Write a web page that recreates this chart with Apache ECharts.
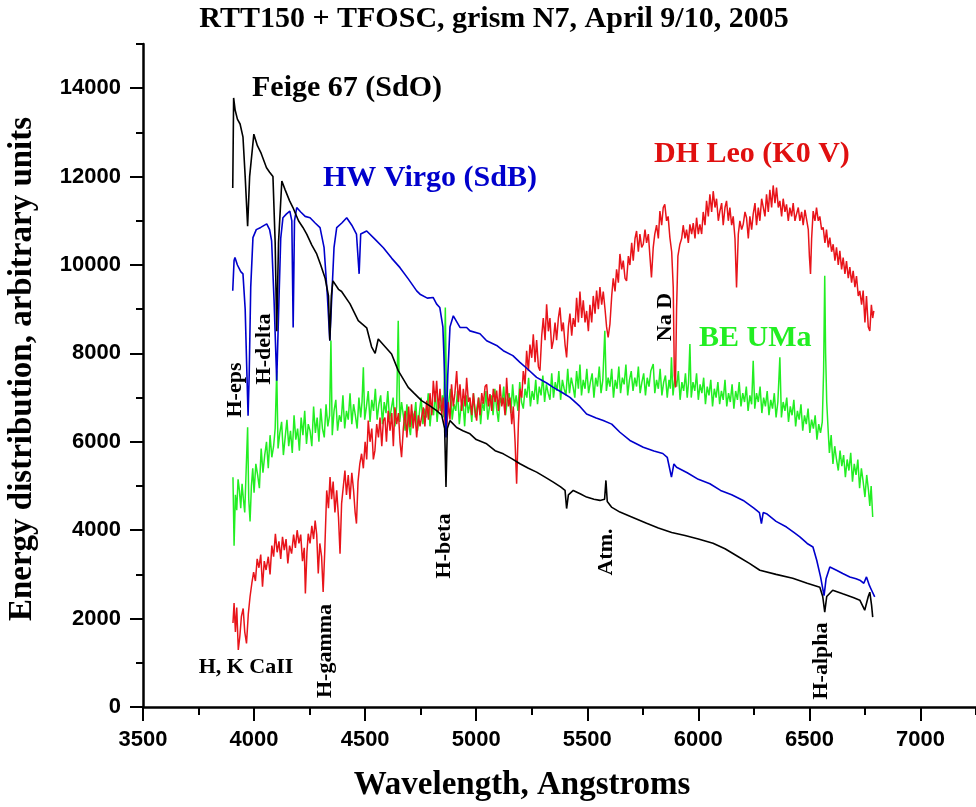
<!DOCTYPE html>
<html><head><meta charset="utf-8">
<script src="https://cdn.jsdelivr.net/npm/echarts@6/dist/echarts.min.js"></script>
<style>html,body{margin:0;padding:0;background:#fff}#c{width:976px;height:807px}</style>
</head><body><div id="c"></div>
<script>
const xTicks=[3500,4000,4500,5000,5500,6000,6500,7000];
const yTicks=[0,2000,4000,6000,8000,10000,12000,14000];

const feige67=[[3904,11740],[3908,13780],[3915,13500],[3925,13300],[3937,13190],[3950,12900],[3960,12000],[3971,10880],[3980,12000],[3999,12960],[4015,12700],[4030,12550],[4056,12200],[4070,12100],[4085,12000],[4095,10500],[4102,8500],[4110,10500],[4125,11900],[4140,11700],[4160,11450],[4175,11300],[4200,11000],[4220,10850],[4237,10700],[4260,10450],[4282,10250],[4300,10000],[4320,9700],[4335,9300],[4341,8290],[4348,9300],[4355,9640],[4380,9450],[4394,9400],[4432,9120],[4469,8740],[4507,8580],[4529,8150],[4545,8000],[4559,8325],[4590,8150],[4619,7986],[4649,7610],[4694,7232],[4720,7100],[4754,6932],[4790,6820],[4822,6706],[4845,6600],[4858,6300],[4864,4975],[4870,6300],[4882,6480],[4912,6322],[4940,6250],[4972,6180],[5000,6050],[5047,5954],[5085,5800],[5122,5728],[5160,5620],[5197,5503],[5235,5400],[5272,5314],[5310,5200],[5347,5088],[5380,4980],[5400,4900],[5407,4490],[5415,4800],[5437,4900],[5470,4820],[5497,4749],[5530,4700],[5557,4674],[5578,4700],[5584,5126],[5590,4650],[5609,4523],[5647,4410],[5700,4300],[5767,4155],[5820,4050],[5880,3950],[5940,3880],[6000,3800],[6066,3703],[6120,3580],[6180,3400],[6230,3250],[6277,3093],[6350,3000],[6425,2913],[6490,2800],[6547,2710],[6560,2500],[6569,2145],[6578,2500],[6605,2642],[6650,2560],[6700,2470],[6727,2416],[6749,2190],[6765,2500],[6772,2597],[6780,2300],[6785,2032]];

const hwVir=[[3904,9416],[3910,10100],[3914,10170],[3925,10000],[3940,9850],[3950,9800],[3960,9000],[3968,7500],[3973,6590],[3978,7500],[3985,9500],[3995,10620],[4010,10800],[4030,10850],[4057,10930],[4070,10800],[4079,10545],[4090,9200],[4102,7384],[4112,9200],[4120,10600],[4130,11070],[4145,11150],[4161,11220],[4170,11000],[4176,8587],[4182,11000],[4192,11300],[4210,11200],[4230,11100],[4252,11070],[4275,10950],[4297,10845],[4315,10400],[4330,9300],[4341,8290],[4350,9300],[4360,10400],[4372,10845],[4395,10950],[4417,11070],[4440,10900],[4461,10700],[4473,9800],[4480,10700],[4507,10770],[4545,10580],[4582,10390],[4620,10150],[4657,9940],[4695,9680],[4732,9415],[4747,9340],[4780,9250],[4806,9265],[4822,9115],[4836,9040],[4850,8600],[4858,7500],[4864,6100],[4872,7500],[4882,8600],[4897,8850],[4927,8587],[4957,8587],[4972,8510],[5017,8445],[5047,8286],[5092,8180],[5122,8060],[5165,7950],[5197,7797],[5235,7630],[5272,7458],[5317,7330],[5347,7232],[5385,7120],[5422,7006],[5467,6800],[5497,6630],[5540,6540],[5572,6480],[5610,6400],[5647,6216],[5692,6030],[5752,5877],[5800,5790],[5840,5735],[5860,5650],[5879,5200],[5890,5500],[5902,5426],[5950,5300],[6000,5150],[6052,5050],[6100,4900],[6150,4800],[6202,4674],[6250,4500],[6275,4400],[6284,4147],[6292,4400],[6307,4373],[6350,4200],[6397,4071],[6430,3950],[6457,3850],[6490,3700],[6516,3620],[6533,3320],[6550,2950],[6566,2520],[6575,2900],[6592,3168],[6622,3093],[6650,3020],[6682,2943],[6710,2900],[6727,2868],[6745,2800],[6757,2943],[6770,2750],[6780,2642],[6794,2490]];

const beUMa=[[3905,5200],[3910,3650],[3916,4800],[3922,4450],[3928,5150],[3934,4900],[3940,4500],[3946,5050],[3952,4700],[3958,4400],[3964,5300],[3971,6330],[3976,4700],[3982,4200],[3988,5000],[3994,5400],[4000,4850],[4008,5500],[4016,5250],[4024,4950],[4032,5850],[4040,5300],[4048,5700],[4056,6000],[4064,5400],[4072,6150],[4080,5650],[4088,5900],[4095,6300],[4102,7610],[4108,5850],[4116,6200],[4124,6450],[4132,5700],[4140,6100],[4148,6500],[4156,5900],[4164,6250],[4172,5750],[4180,6600],[4188,6050],[4196,6300],[4204,5800],[4212,6550],[4220,6150],[4228,6700],[4236,5950],[4244,6400],[4252,6250],[4260,5900],[4268,6800],[4276,6200],[4284,6550],[4292,6000],[4300,6750],[4308,6300],[4316,6100],[4324,6850],[4332,6350],[4340,6600],[4346,8290],[4352,6150],[4360,6700],[4368,6950],[4376,6250],[4384,6600],[4392,6450],[4400,7050],[4408,6300],[4416,6700],[4424,6500],[4432,7100],[4440,6400],[4448,6850],[4456,6600],[4464,6300],[4472,7000],[4480,6550],[4486,6900],[4492,7685],[4498,6500],[4506,6800],[4514,7150],[4522,6450],[4530,6950],[4538,6700],[4546,7200],[4554,6500],[4562,6850],[4570,7050],[4578,6400],[4586,6900],[4594,6650],[4602,7150],[4610,6500],[4618,6750],[4626,7000],[4634,6350],[4642,6800],[4649,8740],[4656,6450],[4664,6900],[4672,6600],[4680,6250],[4688,6850],[4696,6400],[4704,6150],[4712,6700],[4720,6500],[4728,6900],[4736,6250],[4744,6650],[4752,7000],[4760,6400],[4768,6750],[4776,6550],[4784,7100],[4792,6350],[4800,6800],[4808,6600],[4816,7150],[4824,6450],[4832,6900],[4840,6700],[4848,7050],[4854,6550],[4861,9040],[4868,6400],[4876,6900],[4884,7200],[4892,6500],[4900,6850],[4908,6700],[4916,7150],[4924,6400],[4932,6800],[4940,6950],[4948,6350],[4956,7050],[4964,6650],[4972,6900],[4980,6450],[4988,7100],[4996,6550],[5004,6800],[5012,7000],[5020,6400],[5028,6900],[5036,6700],[5044,7150],[5052,6500],[5060,6800],[5068,7050],[5076,6600],[5084,7200],[5092,6750],[5100,6450],[5108,7000],[5116,6850],[5124,7250],[5132,6600],[5140,6950],[5148,7100],[5156,6650],[5164,7300],[5172,6800],[5180,7050],[5188,6700],[5196,7350],[5204,6900],[5212,6750],[5220,7200],[5228,7000],[5236,7450],[5244,6800],[5252,7150],[5260,6950],[5268,7400],[5276,6850],[5284,7250],[5292,7050],[5300,7500],[5308,6900],[5316,7300],[5324,7100],[5332,6950],[5340,7550],[5348,7000],[5356,7350],[5364,7150],[5372,7600],[5380,6950],[5388,7400],[5396,7200],[5404,7050],[5412,7650],[5420,7100],[5428,7450],[5436,7250],[5444,7000],[5452,7600],[5460,7200],[5467,7750],[5474,7050],[5482,7400],[5490,7200],[5498,7650],[5506,7100],[5514,7350],[5522,7550],[5530,7000],[5538,7450],[5546,7250],[5554,7700],[5562,7100],[5570,7400],[5579,8510],[5586,7150],[5594,7450],[5602,7250],[5610,7650],[5618,7000],[5626,7400],[5634,7200],[5642,7700],[5650,7100],[5658,7450],[5666,7300],[5674,7750],[5682,7050],[5690,7400],[5698,7600],[5706,7150],[5714,7450],[5722,7250],[5730,7700],[5738,7100],[5746,7350],[5754,7550],[5762,7050],[5770,7450],[5778,7250],[5786,7600],[5797,7760],[5804,7100],[5812,7400],[5820,7200],[5828,7650],[5836,7050],[5844,7350],[5852,7500],[5860,7000],[5868,7400],[5874,7200],[5879,7910],[5886,7050],[5894,7450],[5902,7250],[5910,7600],[5918,6950],[5926,7350],[5934,7150],[5942,7550],[5950,7000],[5956,7350],[5962,8212],[5968,7000],[5976,7350],[5984,7150],[5992,7550],[6000,6950],[6008,7300],[6016,7100],[6024,7450],[6032,6850],[6040,7250],[6048,7050],[6056,7400],[6064,6800],[6072,7200],[6080,7000],[6088,7350],[6096,6850],[6104,7150],[6112,6950],[6120,7400],[6128,6800],[6136,7100],[6144,6900],[6152,7300],[6160,6750],[6168,7150],[6176,6950],[6184,7350],[6192,6800],[6200,7100],[6208,6900],[6216,7250],[6224,6700],[6232,7050],[6240,6850],[6247,7835],[6254,6750],[6262,7100],[6270,6900],[6278,7250],[6286,6650],[6294,7000],[6302,6800],[6310,7150],[6318,6600],[6326,6950],[6334,6750],[6342,7100],[6350,6550],[6358,6900],[6367,7910],[6374,6550],[6382,6900],[6390,6700],[6398,7000],[6406,6450],[6414,6800],[6422,6600],[6430,6950],[6438,6350],[6446,6700],[6454,6500],[6462,6850],[6470,6250],[6478,6600],[6486,6400],[6494,6750],[6502,6200],[6510,6500],[6518,6300],[6526,6600],[6534,6050],[6542,6400],[6550,6200],[6558,6450],[6564,7600],[6569,9755],[6573,8000],[6578,6900],[6584,6300],[6590,5750],[6598,6150],[6606,5500],[6614,5900],[6622,5600],[6630,5350],[6638,5800],[6646,5450],[6654,5700],[6662,5200],[6670,5600],[6678,5350],[6686,5750],[6694,5100],[6702,5500],[6710,5250],[6718,5600],[6726,4950],[6734,5400],[6742,5100],[6750,4750],[6758,5250],[6766,4900],[6772,4550],[6778,5000],[6785,4300]];

const dhLeo=[[3905,1900],[3910,2350],[3916,1700],[3922,2250],[3929,1290],[3936,1600],[3943,2050],[3951,2230],[3958,1700],[3966,1440],[3974,2100],[3982,2500],[3990,2800],[3998,3050],[4006,2850],[4014,3350],[4022,3150],[4030,3450],[4038,2720],[4046,3300],[4054,3100],[4064,3400],[4072,3000],[4080,3650],[4088,3400],[4096,3920],[4104,3500],[4112,3750],[4120,3350],[4128,3850],[4136,3550],[4144,3800],[4152,3250],[4160,3650],[4169,3470],[4178,3900],[4186,3600],[4194,4000],[4202,3700],[4210,3900],[4218,3300],[4226,3600],[4231,2570],[4238,3500],[4244,3920],[4252,3700],[4260,4100],[4268,3800],[4275,4220],[4282,3900],[4289,3020],[4296,3700],[4304,3400],[4311,2600],[4318,3500],[4327,4900],[4335,4500],[4342,5200],[4349,4700],[4356,5100],[4364,4400],[4372,4900],[4380,4300],[4387,3470],[4394,4600],[4402,5000],[4409,5350],[4416,4800],[4424,5250],[4432,4700],[4440,5300],[4448,4900],[4455,4400],[4461,4150],[4468,5100],[4476,5500],[4484,5730],[4492,5400],[4500,6000],[4507,5600],[4514,6480],[4522,6000],[4530,6300],[4537,5600],[4544,5800],[4552,6400],[4560,6100],[4567,6550],[4575,5900],[4582,6480],[4589,6550],[4596,6000],[4604,6700],[4612,6250],[4620,6650],[4627,5900],[4634,6780],[4642,6400],[4650,6650],[4657,6000],[4664,5650],[4672,6300],[4680,6700],[4688,6100],[4696,6800],[4702,6330],[4709,6850],[4716,6300],[4724,6700],[4732,6100],[4740,6600],[4747,6350],[4754,6550],[4762,6780],[4769,6350],[4777,6930],[4785,6500],[4792,7100],[4800,6600],[4807,7380],[4815,6900],[4822,7380],[4830,6700],[4837,7200],[4845,6600],[4852,7000],[4860,6400],[4867,6250],[4874,6900],[4882,6500],[4889,7300],[4897,6800],[4904,7100],[4912,7600],[4920,6900],[4927,7300],[4935,6700],[4942,7200],[4950,6800],[4957,7450],[4965,6900],[4972,7000],[4980,6600],[4987,7100],[4995,6700],[5002,6480],[5010,7000],[5017,6600],[5025,7100],[5032,6860],[5040,7250],[5047,7300],[5055,6800],[5062,7080],[5070,6700],[5077,7200],[5085,6900],[5092,7160],[5100,6700],[5107,7300],[5115,6800],[5122,7000],[5130,6600],[5137,7450],[5145,6800],[5152,7000],[5160,6400],[5167,6800],[5175,6000],[5182,5050],[5190,6400],[5197,7200],[5205,7000],[5212,7600],[5220,7300],[5227,8060],[5235,7600],[5242,8200],[5250,7900],[5257,8430],[5265,7800],[5272,8300],[5280,7700],[5287,7610],[5295,8400],[5302,8800],[5310,8300],[5317,9110],[5325,8500],[5332,8800],[5340,8100],[5347,8290],[5355,8700],[5362,8300],[5370,8800],[5377,9040],[5385,8500],[5392,8700],[5400,8200],[5407,7910],[5415,8600],[5422,8900],[5430,8400],[5437,8800],[5445,8600],[5452,9260],[5460,8700],[5467,9400],[5475,8800],[5482,9200],[5490,8700],[5497,8960],[5505,8500],[5512,9100],[5520,8700],[5527,9300],[5535,8900],[5542,9420],[5550,9000],[5557,9500],[5565,9100],[5572,9400],[5580,9000],[5587,8600],[5594,8360],[5602,8660],[5610,9300],[5617,9700],[5625,9400],[5632,9900],[5640,9600],[5647,10250],[5655,9900],[5662,10100],[5670,9700],[5677,9640],[5685,10200],[5692,10000],[5700,10500],[5707,10100],[5715,10600],[5722,10770],[5730,10300],[5737,10700],[5745,10400],[5752,10470],[5760,10800],[5767,10500],[5775,10700],[5782,10200],[5789,9720],[5797,10400],[5804,10700],[5812,10900],[5820,10600],[5827,11220],[5835,10900],[5842,11300],[5849,11370],[5857,11000],[5864,11100],[5872,10620],[5880,10300],[5887,9500],[5892,7500],[5897,7230],[5902,9000],[5908,10200],[5917,10470],[5925,10600],[5932,10900],[5940,10600],[5947,10800],[5955,10500],[5962,10920],[5970,10700],[5977,10950],[5985,10600],[5992,11070],[6000,10700],[6007,10920],[6015,10700],[6022,11200],[6030,10900],[6037,11450],[6045,11100],[6052,11600],[6060,11200],[6067,11670],[6075,11300],[6082,11500],[6090,11000],[6097,11220],[6105,11400],[6112,10900],[6120,11300],[6127,11450],[6135,11000],[6142,11297],[6150,10900],[6157,11100],[6165,10600],[6172,9490],[6180,10700],[6187,11000],[6195,10800],[6202,10920],[6210,11200],[6217,11070],[6225,10600],[6232,11100],[6240,10800],[6247,11150],[6255,11400],[6262,10900],[6270,11300],[6277,11000],[6285,11500],[6292,11520],[6300,11100],[6307,11600],[6315,11200],[6322,11700],[6330,11300],[6337,11800],[6345,11400],[6352,11750],[6360,11300],[6367,11450],[6375,11100],[6382,11500],[6390,11200],[6397,11370],[6405,11000],[6412,11300],[6420,11100],[6427,11400],[6435,11000],[6442,11150],[6450,11300],[6457,11000],[6465,11200],[6472,10900],[6480,11250],[6487,11220],[6495,10800],[6500,10200],[6505,9795],[6510,10600],[6517,11220],[6525,11000],[6532,11300],[6540,11000],[6547,11100],[6555,10800],[6562,10850],[6570,10500],[6577,10800],[6585,10400],[6592,10620],[6600,10300],[6607,10470],[6615,10100],[6622,10400],[6630,10000],[6637,10320],[6645,9900],[6652,10170],[6660,9800],[6667,10090],[6675,9700],[6682,9950],[6690,9600],[6697,9870],[6705,9500],[6712,9750],[6720,9300],[6727,9415],[6735,9100],[6742,9420],[6750,8700],[6757,9300],[6765,8600],[6772,8510],[6779,9100],[6785,8800],[6790,8962]];

const SERIF='"Liberation Serif","Times New Roman",serif';
const SANS='"Liberation Sans",Arial,sans-serif';

function txt(text,x,y,size,color,opt){
  opt=opt||{};
  return {type:'text',x:x,y:y,rotation:opt.rot||0,z:100,
    style:{text:text,font:'bold '+size+'px '+SERIF,fill:color,
      align:opt.align||'left',verticalAlign:'middle'}};
}
const V=Math.PI/2;
const plain=function(v){return String(v);};

const chart=echarts.init(document.getElementById('c'),null,{renderer:'canvas'});
const axisCommon={type:'value',splitLine:{show:false}};
chart.setOption({
  animation:false,
  backgroundColor:'#fff',
  grid:{left:143,right:0,top:44,bottom:100,containLabel:false},
  xAxis:[
    Object.assign({},axisCommon,{min:3500,max:7250,interval:250,position:'bottom',
      axisLine:{onZero:false,lineStyle:{color:'#000',width:2.5}},
      axisTick:{length:8,lineStyle:{color:'#000',width:2}},
      axisLabel:{show:false}}),
    Object.assign({},axisCommon,{min:3500,max:7250,interval:500,position:'bottom',
      axisLine:{show:false,onZero:false},
      axisTick:{length:14,customValues:xTicks,lineStyle:{color:'#000',width:2}},
      axisLabel:{customValues:xTicks,formatter:plain,fontFamily:SANS,fontWeight:'bold',fontSize:22,color:'#000',margin:22}})
  ],
  yAxis:[
    Object.assign({},axisCommon,{min:0,max:15000,interval:1000,position:'left',
      axisLine:{show:true,onZero:false,lineStyle:{color:'#000',width:2.5}},
      axisTick:{show:true,length:7,lineStyle:{color:'#000',width:2}},
      axisLabel:{show:false}}),
    Object.assign({},axisCommon,{min:0,max:15000,interval:2000,position:'left',
      axisLine:{show:false,onZero:false},
      axisTick:{show:true,length:13,customValues:yTicks,lineStyle:{color:'#000',width:2}},
      axisLabel:{customValues:yTicks,formatter:plain,fontFamily:SANS,fontWeight:'bold',fontSize:22,color:'#000',margin:22}})
  ],
  series:[
    {name:'BE UMa',type:'line',data:beUMa,showSymbol:false,symbol:'none',lineStyle:{color:'#22ee22',width:1.5},itemStyle:{color:'#22ee22'}},
    {name:'DH Leo',type:'line',data:dhLeo,showSymbol:false,symbol:'none',lineStyle:{color:'#e8141a',width:1.5},itemStyle:{color:'#e8141a'}},
    {name:'HW Vir',type:'line',data:hwVir,showSymbol:false,symbol:'none',lineStyle:{color:'#0000cc',width:1.6},itemStyle:{color:'#0000cc'}},
    {name:'Feige 67',type:'line',data:feige67,showSymbol:false,symbol:'none',lineStyle:{color:'#000',width:1.6},itemStyle:{color:'#000'}}
  ],
  graphic:[
    txt('RTT150 + TFOSC, grism N7, April 9/10, 2005',494,19,30,'#000',{align:'center'}),
    txt('Wavelength, Angstroms',522,785,33,'#000',{align:'center'}),
    txt('Energy distribution, arbitrary units',22,369,33,'#000',{align:'center',rot:V}),
    txt('Feige 67 (SdO)',252,88,30,'#000'),
    txt('HW Virgo (SdB)',323,178,30,'#0000cc'),
    txt('DH Leo (K0 V)',654,154,30,'#e01010'),
    txt('BE UMa',699,338,30,'#22ee22'),
    txt('H, K CaII',246,667,22,'#000',{align:'center'}),
    txt('H-eps',235,390,22,'#000',{align:'center',rot:V}),
    txt('H-delta',264,349,22,'#000',{align:'center',rot:V}),
    txt('H-gamma',325,651,22,'#000',{align:'center',rot:V}),
    txt('H-beta',444,546,22,'#000',{align:'center',rot:V}),
    txt('Atm.',606,552,22,'#000',{align:'center',rot:V}),
    txt('Na D',665,317,22,'#000',{align:'center',rot:V}),
    txt('H-alpha',821,661,22,'#000',{align:'center',rot:V})
  ]
});
</script></body></html>
